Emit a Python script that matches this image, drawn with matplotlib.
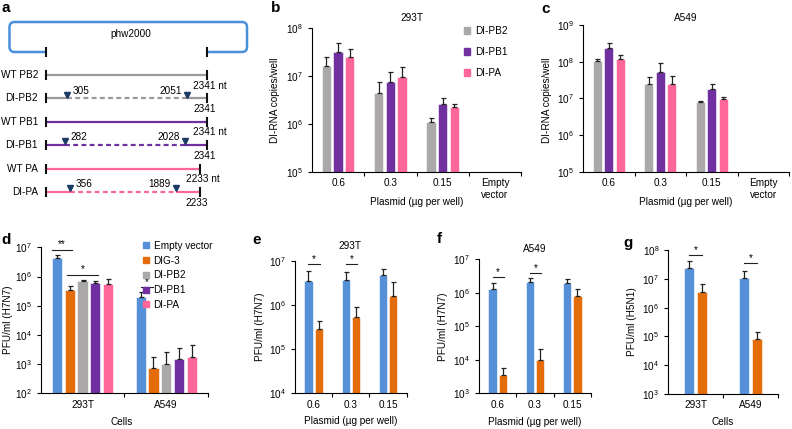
import numpy as np
import matplotlib
matplotlib.use('Agg')
import matplotlib.pyplot as plt
from matplotlib.path import Path
from matplotlib.patches import PathPatch, Patch
from matplotlib.transforms import Affine2D
from matplotlib.ticker import LogLocator, NullLocator

plt.rcParams['font.family'] = ['Liberation Sans', 'DejaVu Sans']
plt.rcParams['font.size'] = 7.2
plt.rcParams['axes.linewidth'] = 0.8

# colours
BLUE = '#5590d9'
ORANGE = '#e46c0a'
GRAY = '#aaa8a8'
PURPLE = '#7030a0'
PINK = '#ff6699'

# ---- panel a: segment diagram ----
seg_names = ['WT PB2', 'DI-PB2', 'WT PB1', 'DI-PB1', 'WT PA', 'DI-PA']
seg_len = [2341, 2341, 2341, 2341, 2233, 2233]
seg_del = [None, (305, 2051), None, (282, 2028), None, (356, 1889)]
seg_colors = ['#9a9a9a', '#9a9a9a', PURPLE, PURPLE, PINK, PINK]

# ---- panels b, c: DI-RNA copies/well ----
plasmid = ['0.6', '0.3', '0.15', 'Empty\nvector']
di_names = ['DI-PB2', 'DI-PB1', 'DI-PA']
di_colors = [GRAY, PURPLE, PINK]
b_mean = [[1.6e7, 4.4e6, 1.07e6],
          [3.1e7, 7.3e6, 2.6e6],
          [2.45e7, 9.2e6, 2.27e6]]
b_err = [[0.8e7, 3.0e6, 0.25e6],
         [1.6e7, 4.7e6, 0.8e6],
         [1.2e7, 5.8e6, 0.3e6]]
c_mean = [[1.07e8, 2.45e7, 7.9e6],
          [2.4e8, 5.3e7, 1.8e7],
          [1.18e8, 2.45e7, 9.8e6]]
c_err = [[0.15e8, 1.45e7, 0.7e6],
         [0.75e8, 3.7e7, 0.6e7],
         [0.3e8, 1.6e7, 1.4e6]]

# ---- panel d: H7N7 titres ----
cells = ['293T', 'A549']
d_series = ['Empty vector', 'DIG-3', 'DI-PB2', 'DI-PB1', 'DI-PA']
d_colors = [BLUE, ORANGE, GRAY, PURPLE, PINK]
d_mean = [[4.3e6, 2.0e5],
          [3.5e5, 7.6e2],
          [7.2e5, 1.0e3],
          [6.0e5, 1.5e3],
          [5.4e5, 1.8e3]]
d_err = [[1.2e6, 0.9e5],
         [1.1e5, 1.04e3],
         [0.3e5, 1.7e3],
         [0.9e5, 2.1e3],
         [3.1e5, 2.7e3]]

# ---- panels e, f: H7N7 titres vs plasmid dose ----
plasmid3 = ['0.6', '0.3', '0.15']
e_empty = [3.5e6, 3.8e6, 4.7e6]
e_empty_err = [2.5e6, 1.8e6, 2.0e6]
e_dig = [2.8e5, 5.5e5, 1.6e6]
e_dig_err = [1.6e5, 3.6e5, 1.8e6]
f_empty = [1.3e6, 2.05e6, 1.9e6]
f_empty_err = [0.6e6, 0.75e6, 0.7e6]
f_dig = [3.4e3, 1.0e4, 7.9e5]
f_dig_err = [2.2e3, 1.1e4, 5.1e5]

# ---- panel g: H5N1 titres ----
g_empty = [2.3e7, 1.1e7]
g_empty_err = [2.0e7, 0.7e7]
g_dig = [3.4e6, 8.1e4]
g_dig_err = [3.1e6, 6.4e4]

W, H = 792, 429
fig = plt.figure(figsize=(W / 100, H / 100), dpi=100)
pxT = Affine2D().scale(1 / W, -1 / H).translate(0, 1) + fig.transFigure


def px_axes(l, t, r, b):
    return fig.add_axes([l / W, 1 - b / H, (r - l) / W, (b - t) / H])


def ftext(x, y, s, **kw):
    fig.text(x, y, s, transform=pxT, ha='center', va='center', **kw)


def bar_axes(rect, ymin, ymax, ncat, labels, xmax):
    ax = px_axes(*rect)
    ax.set_yscale('log')
    for s in ['top', 'right']:
        ax.spines[s].set_visible(False)
    ax.set_xlim(-0.5, xmax)
    ax.set_xticks(np.arange(0.5, xmax + 0.01, 1))
    ax.set_xticklabels([])
    ax.set_xticks(np.arange(ncat), minor=True)
    ax.set_xticklabels(labels, minor=True)
    ax.tick_params(axis='x', which='minor', length=0, pad=4.5)
    ax.tick_params(axis='both', which='major', direction='out', length=3, width=0.8)
    ax.yaxis.set_major_locator(LogLocator(base=10, numticks=12))
    ax.yaxis.set_minor_locator(NullLocator())
    return ax


def draw_bars(ax, x, vals, errs, width, color):
    ax.bar(x, vals, width, color=color, edgecolor='white', linewidth=0.4,
           yerr=[np.zeros(len(vals)), errs],
           error_kw=dict(ecolor='#222222', elinewidth=0.9, capsize=1.8, capthick=0.9))


def sig(ax, x0, x1, y, star):
    ax.plot([x0, x1], [y, y], color='#222222', lw=0.8)
    ax.annotate(star, ((x0 + x1) / 2, y), xytext=(0, 0.3), textcoords='offset points',
                ha='center', va='bottom', fontsize=7.2)


def labels(ax, ylab, ypos, xlab, xpos):
    ax.set_ylabel(ylab, va='center')
    ax.yaxis.set_label_coords(*ypos, transform=pxT)
    ax.set_xlabel(xlab, va='center')
    ax.xaxis.set_label_coords(*xpos, transform=pxT)


# ================= panel a =================
axa = px_axes(0, 0, 260, 215)
axa.axis('off')
nt_per_px = 2341 / 161.0
axa.set_xlim(-46 * nt_per_px, (260 - 46) * nt_per_px)
axa.set_ylim((215 - 75) / 23.4, -75 / 23.4)

# plasmid bracket with rounded corners
xl, xr, yt, yb = -531, 2923, -2.265, -0.983
rx, ry = 75, 0.22
verts = [(0, yb), (xl + rx, yb), (xl, yb), (xl, yb - ry), (xl, yt + ry), (xl, yt), (xl + rx, yt),
         (xr - rx, yt), (xr, yt), (xr, yt + ry), (xr, yb - ry), (xr, yb), (xr - rx, yb), (2341, yb)]
codes = [Path.MOVETO, Path.LINETO, Path.CURVE3, Path.CURVE3, Path.LINETO, Path.CURVE3, Path.CURVE3,
         Path.LINETO, Path.CURVE3, Path.CURVE3, Path.LINETO, Path.CURVE3, Path.CURVE3, Path.LINETO]
axa.add_patch(PathPatch(Path(verts, codes), fc='none', ec='#4a8fdc', lw=1.8, capstyle='round'))
for xe in [0, 2341]:
    axa.plot([xe, xe], [yb - 0.17, yb + 0.17], color='#111111', lw=1.5)
axa.text(1230, -1.75, 'phw2000', ha='center', va='center', fontsize=7.2)

for i, (name, ln, dl, col) in enumerate(zip(seg_names, seg_len, seg_del, seg_colors)):
    if dl is None:
        axa.plot([0, ln], [i, i], color=col, lw=1.6, solid_capstyle='butt')
        axa.text(ln - 200, i + 0.45, '%d nt' % ln, ha='left', va='center')
    else:
        axa.plot([0, dl[0]], [i, i], color=col, lw=1.6, solid_capstyle='butt')
        axa.plot([dl[0], dl[1]], [i, i], color=col, lw=1.6, ls=(0, (2.2, 1.5)))
        axa.plot([dl[1], ln], [i, i], color=col, lw=1.6, solid_capstyle='butt')
        axa.plot(dl, [i - 0.16, i - 0.16], ls='none', marker='v', ms=4.5, color='#1b3a63')
        axa.text(dl[0] + 80, i - 0.33, str(dl[0]), ha='left', va='center')
        axa.text(dl[1] - 80, i - 0.33, str(dl[1]), ha='right', va='center')
        axa.text(ln - 200, i + 0.45, str(ln), ha='left', va='center')
    for xe in [0, ln]:
        axa.plot([xe, xe], [i - 0.17, i + 0.17], color='#111111', lw=1.5)
    axa.text(-116, i, name, ha='right', va='center')

# ================= panels b, c =================
off3 = [-0.223, 0, 0.223]
axb = bar_axes((312, 27.7, 521, 171.7), 1e5, 1e8, 4, plasmid, 3.5)
axc = bar_axes((583, 25, 789, 171.7), 1e5, 1e9, 4, plasmid, 3.5)
x3 = np.arange(3)
for k in range(3):
    draw_bars(axb, x3 + off3[k], b_mean[k], b_err[k], 0.18, di_colors[k])
    draw_bars(axc, x3 + off3[k], c_mean[k], c_err[k], 0.18, di_colors[k])
axb.set_ylim(1e5, 1e8)
axc.set_ylim(1e5, 1e9)
labels(axb, 'DI-RNA copies/well', (275, 100), 'Plasmid (µg per well)', (417, 202))
labels(axc, 'DI-RNA copies/well', (547, 100), 'Plasmid (µg per well)', (686, 202))
ftext(412, 18, '293T')
ftext(686, 18, 'A549')
fig.legend(handles=[Patch(color=c, label=n) for c, n in zip(di_colors, di_names)],
           loc='upper left', bbox_to_anchor=(464 / W, 1 - 26 / H), frameon=False,
           handlelength=0.57, handleheight=0.57, handletextpad=0.5, labelspacing=1.1,
           borderpad=0, borderaxespad=0, fontsize=7.2)

# ================= panel d =================
axd = bar_axes((40.7, 247.3, 208, 393.3), 1e2, 1e7, 2, cells, 1.5)
x2 = np.arange(2)
offd = (np.arange(5) - 2) * 0.152
for k in range(5):
    draw_bars(axd, x2 + offd[k], d_mean[k], d_err[k], 0.122, d_colors[k])
axd.set_ylim(1e2, 1e7)
sig(axd, offd[0] - 0.06, offd[1] + 0.03, 8.1e6, '**')
sig(axd, offd[1] - 0.03, offd[3] + 0.03, 1.15e6, '*')
sig(axd, 1 + offd[0], 1 + offd[1], 4.3e5, '*')
labels(axd, 'PFU/ml (H7N7)', (8, 320), 'Cells', (122, 422))
fig.legend(handles=[Patch(color=c, label=n) for c, n in zip(d_colors, d_series)],
           loc='upper left', bbox_to_anchor=(143 / W, 1 - 241 / H), frameon=False,
           handlelength=0.55, handleheight=0.55, handletextpad=0.5, labelspacing=0.47,
           borderpad=0, borderaxespad=0, fontsize=7.2)

# ================= panels e, f =================
axe = bar_axes((295, 261, 406.7, 393.3), 1e4, 1e7, 3, plasmid3, 2.5)
axf = bar_axes((479, 259.3, 591, 393.3), 1e3, 1e7, 3, plasmid3, 2.5)
oe = 0.138
draw_bars(axe, x3 - oe, e_empty, e_empty_err, 0.22, BLUE)
draw_bars(axe, x3 + oe, e_dig, e_dig_err, 0.22, ORANGE)
draw_bars(axf, x3 - oe, f_empty, f_empty_err, 0.22, BLUE)
draw_bars(axf, x3 + oe, f_dig, f_dig_err, 0.22, ORANGE)
axe.set_ylim(1e4, 1e7)
axf.set_ylim(1e3, 1e7)
sig(axe, -oe, oe + 0.03, 8.5e6, '*')
sig(axe, 1 - oe, 1 + oe + 0.03, 8.5e6, '*')
sig(axf, -oe, oe + 0.03, 2.9e6, '*')
sig(axf, 1 - oe, 1 + oe + 0.03, 3.8e6, '*')
labels(axe, 'PFU/ml (H7N7)', (260, 327), 'Plasmid (µg per well)', (351, 421))
labels(axf, 'PFU/ml (H7N7)', (443, 327), 'Plasmid (µg per well)', (535, 422))
ftext(350, 246, '293T')
ftext(535, 249, 'A549')

# ================= panel g =================
axg = bar_axes((668.3, 250, 778.3, 394), 1e3, 1e8, 2, cells, 1.5)
og = 0.12
draw_bars(axg, x2 - og, g_empty, g_empty_err, 0.18, BLUE)
draw_bars(axg, x2 + og, g_dig, g_dig_err, 0.18, ORANGE)
axg.set_ylim(1e3, 1e8)
sig(axg, -og, og, 6.7e7, '*')
sig(axg, 1 - og, 1 + og, 3.5e7, '*')
labels(axg, 'PFU/ml (H5N1)', (632, 322), 'Cells', (723, 422))

# panel letters
for s, x, y in [('a', 6, 8), ('b', 276, 8), ('c', 546, 9), ('d', 6, 240),
                ('e', 257, 240), ('f', 439, 239), ('g', 628, 243)]:
    ftext(x, y, s, fontsize=11, fontweight='bold')

fig.savefig('out.png', dpi=100)
